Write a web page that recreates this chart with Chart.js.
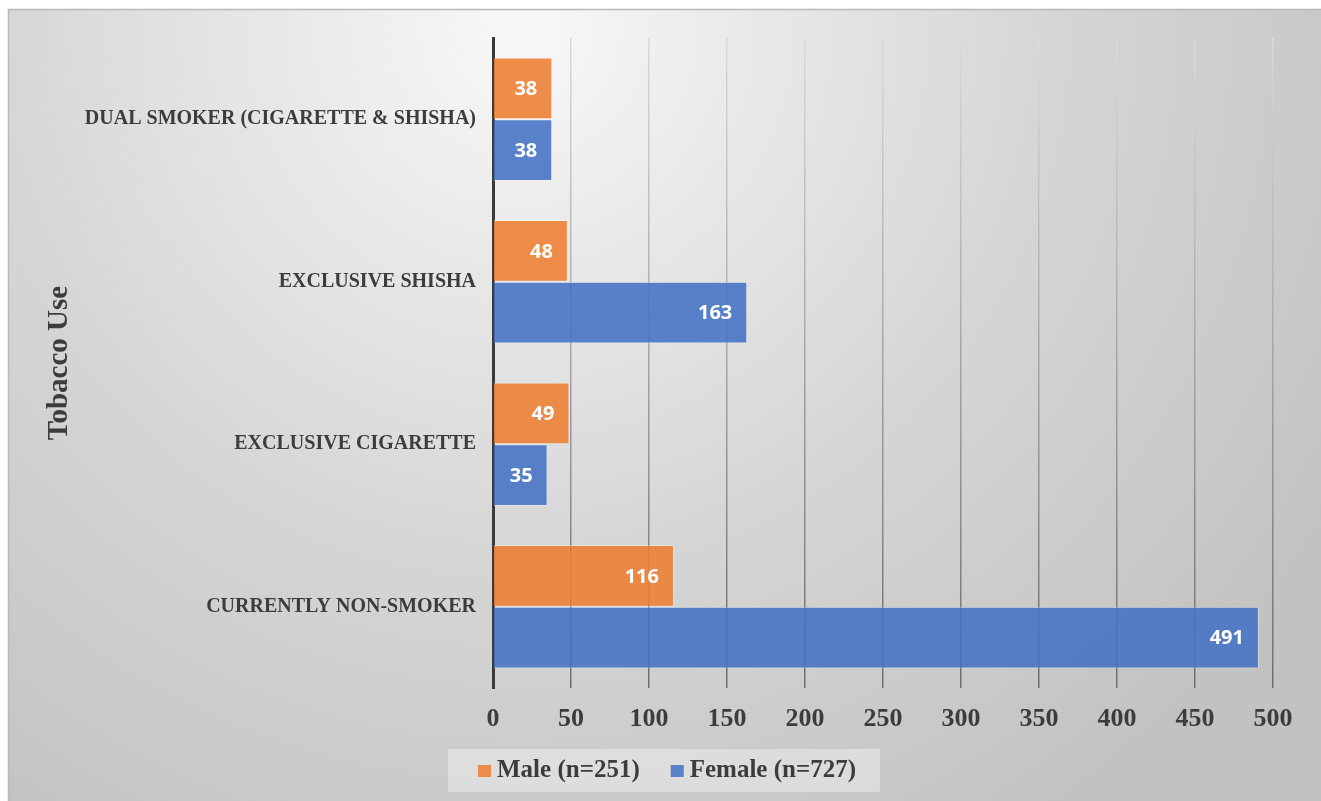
<!DOCTYPE html>
<html lang="en">
<head>
<meta charset="UTF-8">
<title>Tobacco Use by Gender</title>
<style>
  html, body { margin: 0; padding: 0; background: #ffffff; }
  #wrap { position: relative; width: 1321px; height: 801px; }
</style>
<script src="https://cdn.jsdelivr.net/npm/chart.js"></script>
</head>
<body>
<div id="wrap"><canvas id="chart" width="1321" height="801"></canvas></div>
<script>
// categories, top to bottom
const categories = [
  'DUAL SMOKER (CIGARETTE & SHISHA)',
  'EXCLUSIVE SHISHA',
  'EXCLUSIVE CIGARETTE',
  'CURRENTLY NON-SMOKER'
];
const maleValues = [38, 48, 49, 116];
const femaleValues = [38, 163, 35, 491];
const seriesLabels = ['Male (n=251)', 'Female (n=727)'];
const xMin = 0;
const xMax = 500;
const xStep = 50;
const axisTitle = 'Tobacco Use';

const textColor = '#3c3c3c';
const maleColor = 'rgba(237,125,49,0.88)';
const femaleColor = 'rgba(68,114,196,0.88)';
const maleSwatch = '#ed8b4a';
const femaleSwatch = '#5a80c8';

// frame + gradient background
const backgroundPlugin = {
  id: 'background',
  beforeDraw(chart) {
    const ctx = chart.ctx;
    const w = chart.width, h = chart.height;
    ctx.save();
    ctx.fillStyle = '#ffffff';
    ctx.fillRect(0, 0, w, h);
    const g = ctx.createRadialGradient(520, 30, 0, 520, 30, 950);
    g.addColorStop(0, '#f8f8f8');
    g.addColorStop(0.55, '#d6d6d6');
    g.addColorStop(1, '#c2c2c2');
    ctx.fillStyle = g;
    ctx.fillRect(8, 9, w - 8, h - 9);
    ctx.strokeStyle = '#b9b9b9';
    ctx.lineWidth = 1.5;
    ctx.beginPath();
    ctx.moveTo(8.5, h);
    ctx.lineTo(8.5, 9.5);
    ctx.lineTo(w, 9.5);
    ctx.stroke();
    ctx.restore();
  }
};

// white value labels at the inside end of each bar
const valueLabelPlugin = {
  id: 'valueLabels',
  afterDatasetsDraw(chart) {
    const ctx = chart.ctx;
    ctx.save();
    ctx.font = 'bold 20px "Open Sans"';
    ctx.fillStyle = '#ffffff';
    ctx.textAlign = 'right';
    ctx.textBaseline = 'middle';
    chart.data.datasets.forEach((ds, i) => {
      const meta = chart.getDatasetMeta(i);
      meta.data.forEach((bar, j) => {
        ctx.fillText(String(ds.data[j]), bar.x - 15, bar.y + 1);
      });
    });
    ctx.restore();
  }
};

// legend in a light box, centred under the frame
const legendPlugin = {
  id: 'boxLegend',
  afterDraw(chart) {
    const ctx = chart.ctx;
    ctx.save();
    ctx.fillStyle = 'rgba(255,255,255,0.35)';
    ctx.fillRect(448, 749, 432, 43);
    ctx.font = 'bold 25px "Liberation Serif"';
    ctx.textAlign = 'left';
    ctx.textBaseline = 'middle';
    const sw = 13, gap = 6, itemGap = 31;
    const colors = [maleSwatch, femaleSwatch];
    const widths = seriesLabels.map((l) => ctx.measureText(l).width);
    const total = widths.reduce((a, b) => a + b, 0) + 2 * (sw + gap) + itemGap;
    let x = 667 - total / 2;
    seriesLabels.forEach((label, i) => {
      ctx.fillStyle = colors[i];
      ctx.fillRect(x, 765, sw, 12);
      ctx.fillStyle = textColor;
      ctx.fillText(label, x + sw + gap, 771);
      x += sw + gap + widths[i] + itemGap;
    });
    ctx.restore();
  }
};

const ctx = document.getElementById('chart').getContext('2d');
new Chart(ctx, {
  type: 'bar',
  data: {
    labels: categories,
    datasets: [
      {
        label: seriesLabels[0],
        data: maleValues,
        backgroundColor: maleColor,
        borderColor: 'rgba(255,255,255,0.35)',
        borderWidth: 1
      },
      {
        label: seriesLabels[1],
        data: femaleValues,
        backgroundColor: femaleColor,
        borderColor: 'rgba(255,255,255,0.35)',
        borderWidth: 1
      }
    ]
  },
  options: {
    indexAxis: 'y',
    responsive: false,
    animation: false,
    layout: { padding: { top: 38, right: 48, left: 0, bottom: 0 } },
    datasets: { bar: { categoryPercentage: 0.76, barPercentage: 1 } },
    plugins: {
      legend: { display: false },
      tooltip: { enabled: false }
    },
    scales: {
      x: {
        min: xMin,
        max: xMax,
        ticks: {
          stepSize: xStep,
          color: textColor,
          padding: 16,
          maxRotation: 0,
          font: { family: '"Liberation Serif"', size: 26, weight: 'bold' }
        },
        border: { display: false },
        grid: {
          drawTicks: false,
          lineWidth: 1.5,
          color: (c) => {
            if (c.tick && c.tick.value === 0) return 'transparent';
            const area = c.chart.chartArea;
            if (!area) return '#a0a0a0';
            const g = c.chart.ctx.createLinearGradient(0, area.top, 0, area.bottom);
            g.addColorStop(0, '#dadada');
            g.addColorStop(1, '#6e6e6e');
            return g;
          }
        },
        afterFit(scale) { scale.height = 113; }
      },
      y: {
        border: { display: true, color: '#3a3a3a', width: 3 },
        grid: { display: false, drawTicks: false },
        ticks: {
          color: textColor,
          padding: 17,
          font: { family: '"Liberation Serif"', size: 20, weight: 'bold' }
        },
        title: {
          display: true,
          text: axisTitle,
          color: textColor,
          padding: { top: 42, bottom: 0 },
          font: { family: '"Liberation Serif"', size: 29, weight: 'bold' }
        },
        afterFit(scale) { scale.width = 493; }
      }
    }
  },
  plugins: [backgroundPlugin, valueLabelPlugin, legendPlugin]
});
</script>
</body>
</html>
